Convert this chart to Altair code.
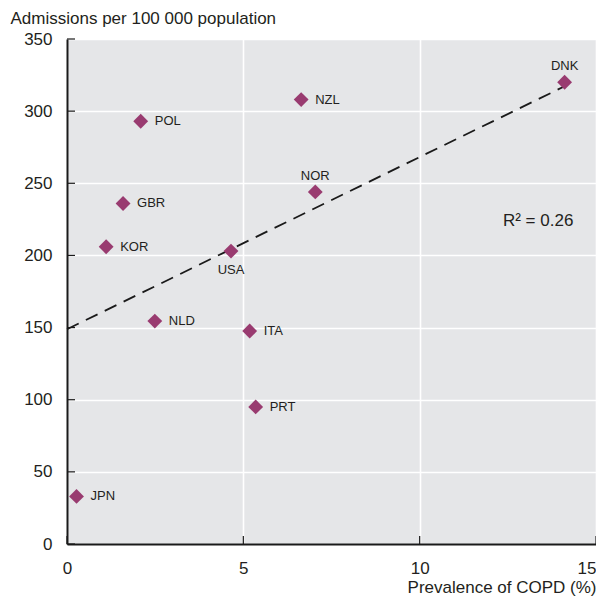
import altair as alt
import pandas as pd

countries = ["DNK", "NZL", "POL", "NOR", "GBR", "KOR", "USA", "NLD", "ITA", "PRT", "JPN"]
prevalence = [14.11, 6.64, 2.09, 7.04, 1.59, 1.11, 4.65, 2.49, 5.18, 5.35, 0.27]
admissions = [320, 308, 293, 244, 236, 206, 203, 154.5, 147.6, 95, 33]

labels_right = ["NZL", "POL", "GBR", "KOR", "NLD", "ITA", "PRT", "JPN"]
labels_above = ["DNK", "NOR"]
labels_below = ["USA"]

x_ticks = [0, 5, 10, 15]
y_ticks = [0, 50, 100, 150, 200, 250, 300, 350]

r2_text = ["R² = 0.26"]
r2_x = [13.36]
r2_y = [224]

FONT = "Liberation Sans"
TXT = "#231f20"
LEFT = 59
W, H = 529, 505

df = pd.DataFrame({"country": countries, "prevalence": prevalence, "admissions": admissions})
xt = pd.DataFrame({"v": x_ticks})
yt = pd.DataFrame({"v": y_ticks})
r2 = pd.DataFrame({"t": r2_text, "x": r2_x, "y": r2_y})

xscale = alt.Scale(domain=[0, 15], nice=False, zero=False)
yscale = alt.Scale(domain=[0, 350], nice=False)

xenc = alt.X(
    "prevalence:Q",
    scale=xscale,
    axis=alt.Axis(
        values=x_ticks,
        title="Prevalence of COPD (%)",
        titleX=W,
        titleY=48,
        titleAlign="right",
        titleAnchor="end",
        titleBaseline="alphabetic",
        labelAlign={"condition": {"test": "datum.value === 15", "value": "right"}, "value": "center"},
        labelPadding=16,
    ),
)
yenc = alt.Y(
    "admissions:Q",
    scale=yscale,
    axis=alt.Axis(
        values=y_ticks,
        title="Admissions per 100 000 population",
        titleAngle=0,
        titleX=-57,
        titleY=-16,
        titleAlign="left",
        titleAnchor="start",
        titleBaseline="alphabetic",
        labelPadding=15,
    ),
)

points = alt.Chart(df).mark_point(
    shape="diamond", filled=True, size=220, color="#993b70", opacity=1
).encode(x=xenc, y=yenc)

trend = alt.Chart(df).transform_regression(
    "prevalence", "admissions", extent=[0, max(prevalence)]
).mark_line(color="#1a1a1a", strokeWidth=1.8, strokeDash=[13, 8]).encode(
    x=alt.X("prevalence:Q", scale=xscale), y=alt.Y("admissions:Q", scale=yscale)
)

def labels(names, **kw):
    return alt.Chart(df).transform_filter(
        alt.FieldOneOfPredicate(field="country", oneOf=names)
    ).mark_text(font=FONT, fontSize=13, color=TXT, **kw).encode(
        x=alt.X("prevalence:Q", scale=xscale),
        y=alt.Y("admissions:Q", scale=yscale),
        text="country:N",
    )

lab_r = labels(labels_right, align="left", baseline="middle", dx=14)
lab_a = labels(labels_above, align="center", baseline="alphabetic", dy=-12)
lab_b = labels(labels_below, align="center", baseline="top", dy=13)

r2_mark = alt.Chart(r2).mark_text(font=FONT, fontSize=17, color=TXT, align="center", baseline="middle").encode(
    x=alt.X("x:Q", scale=xscale), y=alt.Y("y:Q", scale=yscale), text="t:N"
)

ytick_marks = alt.Chart(yt).mark_rule(color="#1a1a1a", strokeWidth=1.2).encode(
    y=alt.Y("v:Q", scale=yscale), x=alt.value(0), x2=alt.value(8)
)
xtick_marks = alt.Chart(xt).mark_rule(color="#1a1a1a", strokeWidth=1.2).encode(
    x=alt.X("v:Q", scale=xscale), y=alt.value(H), y2=alt.value(H - 8)
)

chart = alt.layer(trend, ytick_marks, xtick_marks, points, lab_r, lab_a, lab_b, r2_mark).properties(
    width=W,
    height=H,
    autosize=alt.AutoSizeParams(type="none"),
    padding={"left": LEFT, "top": 31, "right": 0, "bottom": 52},
).configure_view(
    fill="#e5e6e8", stroke=None
).configure_axis(
    grid=True,
    gridColor="#ffffff",
    gridWidth=1.6,
    ticks=False,
    domainColor="#1a1a1a",
    domainWidth=2,
    labelFont=FONT,
    labelFontSize=17,
    labelColor=TXT,
    titleFont=FONT,
    titleFontSize=17,
    titleFontWeight="normal",
    titleColor=TXT,
)

chart.save("out.html", embed_options={"renderer": "svg", "actions": False})
